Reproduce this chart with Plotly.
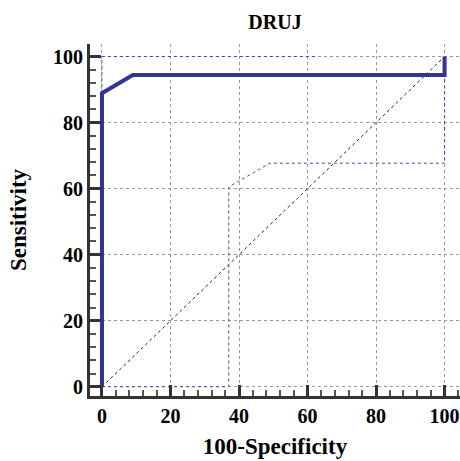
import plotly.graph_objects as go

# ROC curve (DRUJ)
roc_x = [0, 0, 9, 100, 100]
roc_y = [0, 88.9, 94.4, 94.4, 100]
# Upper confidence bound
upper_x = [0, 0, 63]
upper_y = [0, 100, 100]
# Lower confidence bound
lower_x = [0, 37, 37, 49, 100, 100]
lower_y = [0, 0, 60.5, 67.7, 67.7, 94.4]
# Reference diagonal
diag_x = [0, 100]
diag_y = [0, 100]
tick_vals = [0, 20, 40, 60, 80, 100]

font_family = "Liberation Serif"
blue = "#333399"

fig = go.Figure()
fig.add_trace(go.Scatter(x=diag_x, y=diag_y, mode="lines",
                         line=dict(color="#222222", width=1, dash="dot"), showlegend=False))
fig.add_trace(go.Scatter(x=upper_x, y=upper_y, mode="lines",
                         line=dict(color="#4444bb", width=1, dash="dot"), showlegend=False))
fig.add_trace(go.Scatter(x=lower_x, y=lower_y, mode="lines",
                         line=dict(color="#4444bb", width=1, dash="dot"), showlegend=False))
fig.add_trace(go.Scatter(x=roc_x, y=roc_y, mode="lines",
                         line=dict(color=blue, width=4), showlegend=False))

axis_common = dict(
    tickvals=tick_vals,
    ticks="inside", ticklen=11, tickwidth=3, tickcolor="#333333",
    showline=True, linewidth=3, linecolor="#333333",
    showgrid=True, gridcolor="#999999", griddash="dot", gridwidth=1,
    zeroline=False,
    tickfont=dict(family=font_family, size=20, color="black", weight="bold"),
    minor=dict(dtick=4, tick0=0, ticks="inside", ticklen=6, tickwidth=1.5,
               tickcolor="#555555", showgrid=False),
)

fig.update_xaxes(range=[-3.5, 104.5], **axis_common,
                 title=dict(text="100-Specificity",
                            font=dict(family=font_family, size=23, color="black", weight="bold"),
                            standoff=12))
fig.update_yaxes(range=[-2.8, 103.8], **axis_common,
                 title=dict(text="Sensitivity",
                            font=dict(family=font_family, size=23, color="black", weight="bold"),
                            standoff=20))

fig.update_layout(
    width=460, height=461,
    margin=dict(l=90, r=0, t=44, b=65),
    paper_bgcolor="white", plot_bgcolor="white",
    title=dict(text="DRUJ", x=0.5, xanchor="center", y=0.952, yanchor="middle",
               xref="paper",
               font=dict(family=font_family, size=20, color="black", weight="bold")),
)

fig.write_html("out.html")
